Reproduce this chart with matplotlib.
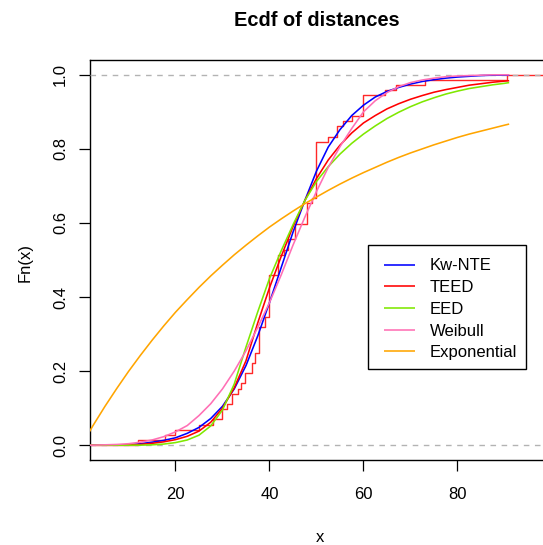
import numpy as np
import matplotlib
matplotlib.use("Agg")
import matplotlib.pyplot as plt
from matplotlib.patches import Rectangle

plt.rcParams['font.family'] = ['Liberation Sans', 'DejaVu Sans']

# observed distances
distances = [12, 17.8, 19.9, 24.9, 28, 29.8, 29.8, 31, 32, 32, 33.4, 34,
             34.8, 34.8, 36.2, 36.2, 37, 37, 37.8, 37.8, 37.8, 37.8, 37.8,
             39, 39, 40, 40, 40, 40, 40, 40, 40, 40, 41.9, 41.9, 41.9, 41.9,
             43, 44, 44, 45.5, 45.5, 45.5, 47.9, 47.9, 47.9, 47.9, 49,
             50, 50, 50, 50, 50, 50, 50, 50, 50, 50, 50, 52.5, 54.4, 54.4,
             55.7, 57.5, 60, 60, 60, 60, 64.6, 66.9, 73, 90.5]

# fitted CDF values on a common grid
grid = [0, 2.5, 5, 7.5, 10, 12.5, 15, 17.5, 20, 22.5, 25, 27.5, 30, 32.5,
        35, 37.5, 40, 42.5, 45, 47.5, 50, 52.5, 55, 57.5, 60, 62.5, 65,
        67.5, 70, 72.5, 75, 77.5, 80, 82.5, 85, 87.5, 90, 91]

kw_nte = [0, 0, 0, 0, 0.001, 0.004, 0.008, 0.013, 0.02, 0.032, 0.048,
          0.072, 0.105, 0.152, 0.215, 0.295, 0.385, 0.48, 0.575, 0.66,
          0.74, 0.805, 0.852, 0.89, 0.918, 0.94, 0.955, 0.966, 0.975,
          0.982, 0.987, 0.991, 0.994, 0.996, 0.998, 0.999, 0.999, 0.999]

teed = [0, 0, 0, 0, 0.001, 0.002, 0.005, 0.009, 0.015, 0.024, 0.038,
        0.062, 0.1, 0.155, 0.228, 0.33, 0.425, 0.51, 0.59, 0.66, 0.72,
        0.77, 0.81, 0.843, 0.87, 0.89, 0.908, 0.922, 0.934, 0.944, 0.953,
        0.96, 0.966, 0.972, 0.976, 0.98, 0.983, 0.984]

eed = [0, 0, 0, 0, 0, 0, 0.001, 0.003, 0.007, 0.014, 0.027, 0.052, 0.095,
       0.165, 0.265, 0.36, 0.45, 0.525, 0.595, 0.66, 0.712, 0.752, 0.786,
       0.815, 0.84, 0.862, 0.882, 0.899, 0.914, 0.927, 0.938, 0.948,
       0.956, 0.963, 0.968, 0.973, 0.977, 0.979]

weibull = [0, 0, 0.001, 0.002, 0.004, 0.008, 0.014, 0.023, 0.036, 0.053,
           0.08, 0.112, 0.152, 0.2, 0.255, 0.318, 0.385, 0.46, 0.54, 0.615,
           0.685, 0.75, 0.806, 0.855, 0.9, 0.93, 0.952, 0.968, 0.979,
           0.986, 0.991, 0.995, 0.997, 0.998, 0.999, 1.0, 1.0, 1.0]

exponential = [0, 0.054, 0.105, 0.153, 0.199, 0.242, 0.283, 0.322, 0.359,
               0.393, 0.426, 0.457, 0.486, 0.514, 0.540, 0.565, 0.589,
               0.611, 0.632, 0.652, 0.670, 0.688, 0.705, 0.721, 0.736,
               0.750, 0.764, 0.777, 0.789, 0.800, 0.811, 0.821, 0.831,
               0.840, 0.848, 0.856, 0.864, 0.867]

series = [("Kw-NTE", kw_nte, "#0000FF"),
          ("TEED", teed, "#FF0000"),
          ("EED", eed, "#7FE800"),
          ("Weibull", weibull, "#FF6FB5"),
          ("Exponential", exponential, "#FFA500")]

W, H = 543, 545
fig = plt.figure(figsize=(W / 100, H / 100), dpi=100)
ax = fig.add_axes([90 / W, 1 - 460 / H, 461 / W, 400 / H])

xlim = (1.81, 99.9)
ax.set_xlim(*xlim)
ax.set_ylim(-0.04, 1.04)

# empirical CDF as a step function
vals, counts = np.unique(np.array(distances), return_counts=True)
cum = np.cumsum(counts) / len(distances)
sx = np.concatenate([[xlim[0]], vals, [xlim[1]]])
sy = np.concatenate([[0.0], cum, [cum[-1]]])
ax.step(sx, sy, where="post", color="#FF2828", lw=1.0, zorder=2)

for h in (0, 1):
    ax.axhline(h, color="#B3B3B3", lw=1.0, ls=(0, (4, 4)), zorder=3)

for name, vals_c, col in series:
    ax.plot(grid, vals_c, color=col, lw=1.15, label=name, zorder=4,
            solid_capstyle="butt")

ax.set_xticks([20, 40, 60, 80])
ax.set_yticks([0, 0.2, 0.4, 0.6, 0.8, 1.0])
ax.set_yticklabels(["0.0", "0.2", "0.4", "0.6", "0.8", "1.0"], rotation=90,
                   va="center")
ax.tick_params(axis="both", direction="out", length=7.9, width=0.9,
               labelsize=12, colors="black")
ax.tick_params(axis="x", pad=11.5)
ax.tick_params(axis="y", pad=8)
for s in ax.spines.values():
    s.set_linewidth(1.0)
    s.set_color("black")

fig.text(317 / W, 1 - 21 / H, "Ecdf of distances", ha="center", va="center",
         fontsize=14.4, fontweight="bold")
fig.text(320 / W, 1 - 537 / H, "x", ha="center", va="center", fontsize=12)
fig.text(25 / W, 1 - 262 / H, "Fn(x)", ha="center", va="center",
         fontsize=12, rotation=90)

# legend box
fig.patches.append(Rectangle((367.6 / W, 1 - 368.7 / H), (526 - 367.6) / W,
                             (368.7 - 244.8) / H, transform=fig.transFigure,
                             fill=True, facecolor="white", edgecolor="black",
                             lw=1.0, zorder=10))
leg = fig.legend(loc="upper left", bbox_to_anchor=(384 / W, 1 - 258.5 / H),
                 frameon=False, fontsize=12, handlelength=1.85,
                 handletextpad=0.9, labelspacing=0.4, borderaxespad=0,
                 borderpad=0)
leg.set_zorder(11)

fig.savefig("out.png", dpi=100)
